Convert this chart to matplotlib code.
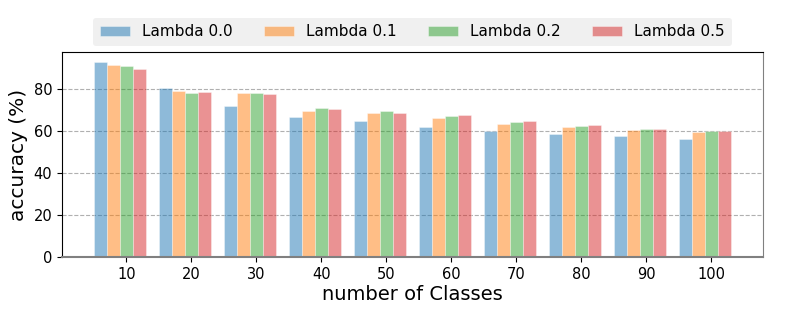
import matplotlib
matplotlib.use("Agg")
import matplotlib.pyplot as plt
import numpy as np

classes = ["10", "20", "30", "40", "50", "60", "70", "80", "90", "100"]
series_names = ["Lambda 0.0", "Lambda 0.1", "Lambda 0.2", "Lambda 0.5"]
lambda_00 = [92.8, 80.8, 71.9, 66.9, 65.0, 62.2, 60.3, 58.7, 57.8, 56.5]
lambda_01 = [91.7, 79.0, 78.1, 69.7, 68.6, 66.5, 63.5, 62.0, 60.6, 59.5]
lambda_02 = [90.9, 78.2, 78.2, 70.9, 69.5, 67.4, 64.6, 62.7, 60.9, 60.0]
lambda_05 = [89.8, 78.7, 77.6, 70.5, 68.9, 67.8, 65.0, 63.0, 61.1, 60.0]
series = [lambda_00, lambda_01, lambda_02, lambda_05]
colors = ["tab:blue", "tab:orange", "tab:green", "tab:red"]

fig = plt.figure(figsize=(7.89, 3.16), dpi=100)
ax = fig.add_axes([0.0786, 0.186, 0.888, 0.648])

x = np.arange(len(classes))
width = 0.2
offsets = [-0.4, -0.2, 0.0, 0.2]
for vals, name, c, off in zip(series, series_names, colors, offsets):
    ax.bar(x + off, vals, width, color=c, alpha=0.5, label=name,
           edgecolor="white", linewidth=0.5, zorder=2)

ax.set_xticks(x)
ax.set_xticklabels(classes, fontsize=10.5)
ax.tick_params(axis="y", labelsize=10.5)
ax.set_yticks([0, 20, 40, 60, 80])
ax.set_ylim(0, 97.5)
ax.yaxis.grid(True, linestyle="--", color="#b0b0b0", linewidth=0.8, zorder=0)
ax.set_axisbelow(True)
ax.set_xlabel("number of Classes", fontsize=14, labelpad=2)
ax.set_ylabel("accuracy (%)", fontsize=14.5)

ax.spines["bottom"].set_color("#808080")
ax.spines["bottom"].set_linewidth(1.5)
ax.spines["right"].set_color("#808080")
ax.spines["left"].set_color("black")
ax.spines["top"].set_color("black")

leg = ax.legend(loc="lower center", bbox_to_anchor=(0.5, 1.03), ncol=4,
                fontsize=11, frameon=True, facecolor="#f0f0f0",
                edgecolor="none", framealpha=1.0, handlelength=2.0,
                handleheight=0.7, columnspacing=2.0, borderpad=0.45,
                borderaxespad=0.0)

fig.savefig("out.png", dpi=100)
